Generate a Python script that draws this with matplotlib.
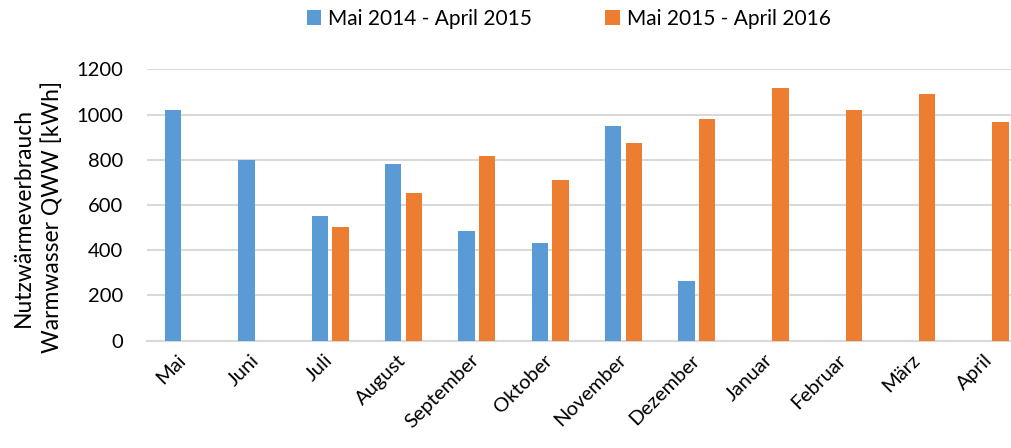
import numpy as np
import matplotlib.pyplot as plt

# Daten
monate = ["Mai", "Juni", "Juli", "August", "September", "Oktober",
          "November", "Dezember", "Januar", "Februar", "März", "April"]
serie_1 = [1022, 800, 552, 780, 484, 434, 948, 264, np.nan, np.nan, np.nan, np.nan]
serie_2 = [np.nan, np.nan, 501, 655, 815, 709, 876, 982, 1118, 1019, 1090, 966]
label_1 = "Mai 2014 - April 2015"
label_2 = "Mai 2015 - April 2016"

BLAU = "#5B9BD5"
ORANGE = "#ED7D31"
FONT = "Lato"

plt.rcParams["font.family"] = [FONT, "DejaVu Sans"]

fig = plt.figure(figsize=(10.12, 4.48), dpi=100)
# plot area runs a little past the right edge, as in the original
ax = fig.add_axes([0.145, 0.2395, 0.8695, 0.6058])

x = np.arange(len(monate))
w = 0.223
off = 0.141
ax.bar(x - off, serie_1, width=w, color=BLAU, label=label_1, zorder=3)
ax.bar(x + off, serie_2, width=w, color=ORANGE, label=label_2, zorder=3)

ax.set_xlim(-0.5, len(monate) - 0.5)
ax.set_ylim(0, 1200)
ax.set_yticks(range(0, 1201, 200))
ax.yaxis.grid(True, color="#D9D9D9", linewidth=1.5, zorder=0)
ax.set_axisbelow(True)

for s in ["top", "right", "left"]:
    ax.spines[s].set_visible(False)
ax.spines["bottom"].set_color("#D9D9D9")
ax.spines["bottom"].set_linewidth(1.5)

ax.tick_params(axis="y", length=0, pad=17, labelsize=14.5)
ax.tick_params(axis="x", length=0, pad=12, labelsize=14.5)
ax.set_xticks(x)
ax.set_xticklabels(monate, rotation=45, ha="right", va="center",
                   rotation_mode="anchor")

fig.text(38 / 1012, 1 - 217 / 448, "Nutzwärmeverbrauch\nWarmwasser QWW [kWh]",
         rotation=90, ha="center", va="center", fontsize=16.5,
         linespacing=1.4, multialignment="center")

fig.legend(loc="center", bbox_to_anchor=(0.562, 0.958), ncol=2,
           frameon=False, fontsize=15, handlelength=0.7, handleheight=0.7,
           handletextpad=0.35, columnspacing=3.5)

fig.savefig("out.png", dpi=100)
